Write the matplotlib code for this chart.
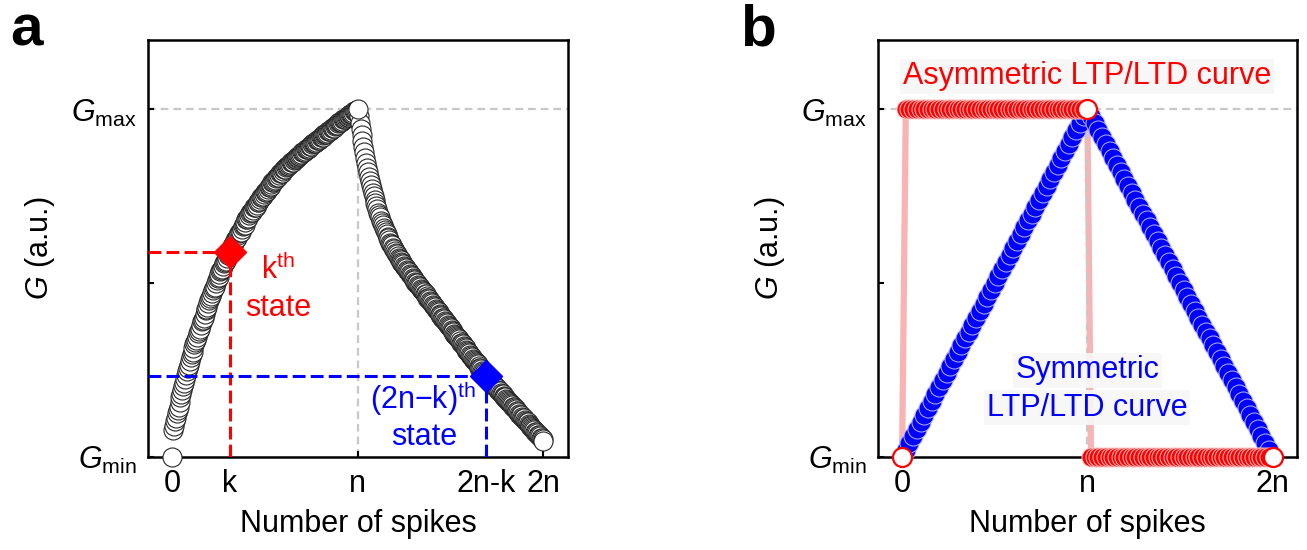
import matplotlib
matplotlib.use("Agg")
import matplotlib.pyplot as plt

plt.rcParams['font.family'] = ['Liberation Sans', 'DejaVu Sans']
plt.rcParams['mathtext.fontset'] = 'custom'
plt.rcParams['mathtext.rm'] = 'Liberation Sans'
plt.rcParams['mathtext.it'] = 'Liberation Sans:italic'
plt.rcParams['mathtext.bf'] = 'Liberation Sans:bold'

# ---------------- panel a: measured (asymmetric, nonlinear) curve ----------------
n_a = 200          # spikes per branch
k_a = 62           # chosen k-th state
# potentiation branch, spikes 0..n
ltp_a = [
    0.000, 0.075,
    0.087, 0.101, 0.111, 0.124, 0.135, 0.144, 0.158, 0.171, 0.180,
    0.191, 0.204, 0.213, 0.222, 0.234, 0.247, 0.255, 0.263, 0.275, 0.287,
    0.294, 0.301, 0.312, 0.323, 0.329, 0.335, 0.345, 0.356, 0.362, 0.368,
    0.378, 0.389, 0.394, 0.400, 0.410, 0.421, 0.426, 0.431, 0.442, 0.452,
    0.457, 0.461, 0.471, 0.481, 0.485, 0.489, 0.499, 0.509, 0.513, 0.517,
    0.526, 0.535, 0.538, 0.540, 0.549, 0.558, 0.561, 0.564, 0.573, 0.581,
    0.584, 0.590, 0.595, 0.603, 0.606, 0.608, 0.616, 0.624, 0.627, 0.629,
    0.637, 0.645, 0.646, 0.648, 0.656, 0.664, 0.666, 0.668, 0.676, 0.684,
    0.685, 0.687, 0.695, 0.702, 0.704, 0.705, 0.711, 0.718, 0.719, 0.720,
    0.726, 0.733, 0.734, 0.735, 0.741, 0.748, 0.749, 0.750, 0.756, 0.762,
    0.763, 0.765, 0.770, 0.776, 0.777, 0.779, 0.784, 0.790, 0.791, 0.793,
    0.798, 0.803, 0.804, 0.805, 0.810, 0.816, 0.817, 0.818, 0.823, 0.828,
    0.828, 0.829, 0.833, 0.838, 0.838, 0.839, 0.843, 0.848, 0.848, 0.849,
    0.853, 0.857, 0.858, 0.859, 0.863, 0.867, 0.867, 0.868, 0.872, 0.876,
    0.877, 0.877, 0.881, 0.885, 0.886, 0.886, 0.890, 0.894, 0.895, 0.895,
    0.899, 0.903, 0.903, 0.903, 0.907, 0.912, 0.912, 0.912, 0.916, 0.920,
    0.920, 0.920, 0.925, 0.929, 0.929, 0.929, 0.933, 0.938, 0.938, 0.938,
    0.942, 0.946, 0.947, 0.947, 0.951, 0.955, 0.955, 0.956, 0.960, 0.964,
    0.964, 0.964, 0.968, 0.972, 0.972, 0.972, 0.975, 0.979, 0.979, 0.980,
    0.983, 0.987, 0.987, 0.987, 0.991, 0.994, 0.994, 0.995, 0.998, 1.000]
# depression branch, spikes n+1..2n
ltd_a = [
    0.981, 0.962, 0.944, 0.926, 0.909, 0.892, 0.876, 0.861, 0.846, 0.832,
    0.819, 0.806, 0.794, 0.782, 0.771, 0.760, 0.750, 0.740, 0.730, 0.721,
    0.713, 0.703, 0.696, 0.689, 0.679, 0.673, 0.667, 0.658, 0.652, 0.647,
    0.640, 0.633, 0.629, 0.623, 0.616, 0.612, 0.608, 0.601, 0.597, 0.593,
    0.586, 0.583, 0.579, 0.573, 0.570, 0.567, 0.560, 0.557, 0.554, 0.548,
    0.545, 0.542, 0.537, 0.534, 0.531, 0.526, 0.523, 0.520, 0.515, 0.512,
    0.509, 0.504, 0.501, 0.499, 0.494, 0.491, 0.488, 0.484, 0.480, 0.478,
    0.473, 0.469, 0.467, 0.463, 0.458, 0.456, 0.453, 0.448, 0.445, 0.442,
    0.437, 0.434, 0.431, 0.426, 0.423, 0.420, 0.416, 0.412, 0.409, 0.405,
    0.400, 0.398, 0.395, 0.390, 0.387, 0.384, 0.379, 0.376, 0.374, 0.369,
    0.364, 0.362, 0.359, 0.354, 0.351, 0.348, 0.343, 0.340, 0.338, 0.333,
    0.328, 0.326, 0.323, 0.318, 0.315, 0.312, 0.307, 0.304, 0.302, 0.297,
    0.292, 0.290, 0.287, 0.282, 0.279, 0.276, 0.271, 0.268, 0.266, 0.261,
    0.256, 0.254, 0.251, 0.246, 0.243, 0.240, 0.235, 0.232, 0.230, 0.226,
    0.222, 0.220, 0.218, 0.213, 0.211, 0.209, 0.204, 0.202, 0.200, 0.196,
    0.192, 0.190, 0.188, 0.183, 0.181, 0.179, 0.174, 0.172, 0.170, 0.166,
    0.162, 0.160, 0.158, 0.153, 0.151, 0.149, 0.144, 0.142, 0.140, 0.136,
    0.132, 0.130, 0.128, 0.123, 0.121, 0.119, 0.114, 0.112, 0.110, 0.106,
    0.102, 0.100, 0.098, 0.093, 0.091, 0.089, 0.084, 0.082, 0.080, 0.076,
    0.072, 0.070, 0.068, 0.063, 0.061, 0.059, 0.054, 0.052, 0.050, 0.046]
kth_G = 0.59        # conductance of the k-th state
sym_G = 0.231       # conductance of the (2n-k)-th state
ticks_a = ['0', 'k', 'n', '2n-k', '2n']

# ---------------- panel b: ideal symmetric vs asymmetric curves ----------------
n_b = 50
sym_b = [
    0.00, 0.02, 0.04, 0.06, 0.08, 0.10, 0.12, 0.14, 0.16, 0.18,
    0.20, 0.22, 0.24, 0.26, 0.28, 0.30, 0.32, 0.34, 0.36, 0.38,
    0.40, 0.42, 0.44, 0.46, 0.48, 0.50, 0.52, 0.54, 0.56, 0.58,
    0.60, 0.62, 0.64, 0.66, 0.68, 0.70, 0.72, 0.74, 0.76, 0.78,
    0.80, 0.82, 0.84, 0.86, 0.88, 0.90, 0.92, 0.94, 0.96, 0.98,
    1.00,
    0.98, 0.96, 0.94, 0.92, 0.90, 0.88, 0.86, 0.84, 0.82, 0.80,
    0.78, 0.76, 0.74, 0.72, 0.70, 0.68, 0.66, 0.64, 0.62, 0.60,
    0.58, 0.56, 0.54, 0.52, 0.50, 0.48, 0.46, 0.44, 0.42, 0.40,
    0.38, 0.36, 0.34, 0.32, 0.30, 0.28, 0.26, 0.24, 0.22, 0.20,
    0.18, 0.16, 0.14, 0.12, 0.10, 0.08, 0.06, 0.04, 0.02, 0.00]
asym_b = [0.0] + [1.0] * n_b + [0.0] * n_b
ticks_b = ['0', 'n', '2n']

FS = 22
GRAY = '#c8c8c8'
RED = '#ff0000'
BLUE = '#0000ff'

fig = plt.figure(figsize=(13.07, 5.5), dpi=100)
bottom = 1 - 456.5 / 550
height = (456.5 - 40) / 550
ax_a = fig.add_axes([148 / 1307, bottom, 420 / 1307, height])
ax_b = fig.add_axes([878 / 1307, bottom, 419 / 1307, height])


def style_axes(ax, n, xticks, xlabels):
    ax.set_ylim(0, 1.2)
    ax.set_xlim(-0.13 * n, 2.132 * n)
    ax.set_xticks(xticks)
    ax.set_xticklabels(xlabels, fontsize=FS)
    ax.set_yticks([0, 0.5, 1])
    ax.set_yticklabels([r'$G_{\mathrm{min}}$', '', r'$G_{\mathrm{max}}$'], fontsize=FS)
    ax.tick_params(direction='in', length=4, width=1.5, pad=9)
    ax.tick_params(axis='y', pad=8)
    for s in ax.spines.values():
        s.set_linewidth(1.8)
    ax.set_xlabel('Number of spikes', fontsize=FS, labelpad=7)
    ax.set_ylabel(r'$G$ (a.u.)', fontsize=FS)
    ax.yaxis.set_label_coords(-0.217, 0.5)


# ---- panel a ----
ax = ax_a
x_ltp = list(range(0, n_a + 1))
x_ltd = list(range(n_a + 1, 2 * n_a + 1))
dash_g = (0, (3.5, 2.2))
ax.axhline(1.0, color=GRAY, lw=1.6, ls=dash_g, zorder=1)
ax.plot([n_a, n_a], [0, 1.0], color=GRAY, lw=1.6, ls=dash_g, zorder=1)

mk = dict(marker='o', ls='none', ms=13.7, mfc='white', mec='#262626', mew=0.8,
          clip_on=False)
ax.plot(x_ltp[:-1], ltp_a[:-1], zorder=3, **mk)
ax.plot(x_ltd, ltd_a, zorder=3, **mk)
ax.plot([x_ltp[-1]], [ltp_a[-1]], zorder=3.5, **mk)

dash_c = (0, (4.2, 1.7))
xl = -0.13 * n_a
ax.plot([xl, k_a], [kth_G, kth_G], color=RED, lw=2.2, ls=dash_c, zorder=4)
ax.plot([k_a, k_a], [0, kth_G], color=RED, lw=2.2, ls=dash_c, zorder=4)
ax.plot([xl, 2 * n_a - k_a], [sym_G, sym_G], color=BLUE, lw=2.2, ls=dash_c, zorder=4)
ax.plot([2 * n_a - k_a, 2 * n_a - k_a], [0, sym_G], color=BLUE, lw=2.2, ls=dash_c, zorder=4)
ax.plot([k_a], [kth_G], marker='D', ms=16, color=RED, zorder=5)
ax.plot([2 * n_a - k_a], [sym_G], marker='D', ms=16, color=BLUE, zorder=5)

ax.text(114, 0.512, r'k$^{\mathrm{th}}$', color=RED, fontsize=FS, ha='center', va='baseline')
ax.text(114, 0.405, 'state', color=RED, fontsize=FS, ha='center', va='baseline')
ax.text(270, 0.136, '(2n\u2212k)$^{\\mathrm{th}}$', color=BLUE, fontsize=FS,
        ha='center', va='baseline')
ax.text(272, 0.032, 'state', color=BLUE, fontsize=FS, ha='center', va='baseline')

style_axes(ax, n_a, [0, k_a, n_a, 2 * n_a - k_a, 2 * n_a], ticks_a)

# ---- panel b ----
ax = ax_b
xb = list(range(0, 2 * n_b + 1))
ax.plot(xb, asym_b, color='#f8b4b4', lw=4.5, zorder=1, solid_capstyle='butt')
ax.axhline(1.0, color=GRAY, lw=1.6, ls=dash_g, zorder=1.5)
ax.plot([n_b, n_b], [0, 1.0], color=GRAY, lw=1.6, ls=dash_g, zorder=1.5)

box = dict(facecolor='#f7f7f7', edgecolor='none', alpha=0.9, pad=2)
ax.text(n_b, 1.072, 'Asymmetric LTP/LTD curve', color=RED, fontsize=FS,
        ha='center', va='baseline', bbox=box, zorder=2.5)
ax.text(n_b, 0.225, 'Symmetric', color=BLUE, fontsize=FS,
        ha='center', va='baseline', bbox=box, zorder=2.5)
ax.text(n_b, 0.118, 'LTP/LTD curve', color=BLUE, fontsize=FS,
        ha='center', va='baseline', bbox=box, zorder=2.5)

ax.plot(xb, sym_b, marker='o', ls='none', ms=13.7, mfc=BLUE, mec='#b8b8ff',
        mew=0.7, zorder=4, clip_on=False)
ax.plot(xb[1:n_b], asym_b[1:n_b], marker='o', ls='none', ms=13.7, mfc=RED,
        mec='#ffc4c4', mew=0.7, zorder=5, clip_on=False)
ax.plot(xb[n_b + 1:-1], asym_b[n_b + 1:-1], marker='o', ls='none', ms=13.7, mfc=RED,
        mec='#ffc4c4', mew=0.7, zorder=5, clip_on=False)
ax.plot([xb[0], xb[n_b], xb[-1]], [asym_b[0], asym_b[n_b], asym_b[-1]], marker='o',
        ls='none', ms=13.7, mfc='white', mec=RED, mew=1.6, zorder=6, clip_on=False)

style_axes(ax, n_b, [0, n_b, 2 * n_b], ticks_b)

fig.text(10 / 1307, 1 - 45 / 550, 'a', fontsize=42, fontweight='bold', va='baseline')
fig.text(740 / 1307, 1 - 45 / 550, 'b', fontsize=42, fontweight='bold', va='baseline')

fig.savefig('out.png', dpi=100)
